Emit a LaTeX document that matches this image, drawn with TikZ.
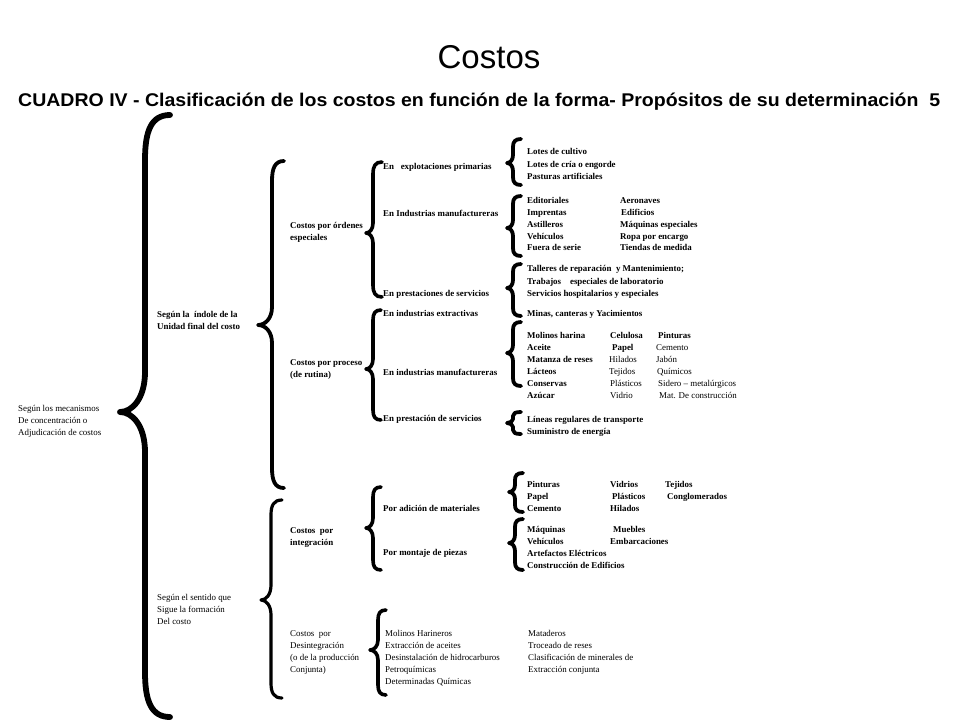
\documentclass[tikz,border=0pt]{standalone}
\usepackage{fontspec}
\setmainfont{Liberation Serif}
\newfontfamily\arialf{Liberation Sans}
\newcommand{\drawbrace}[9]{%
 \draw[line width=#9pt, line cap=round, line join=round]
 (#1+#6,#2) .. controls (#1+0.25*#6,#2) and (#1,#2+0.35*#7) .. (#1,#2+#7)
 -- (#1,#3-#8) .. controls (#1,#3-0.35*#8) and (#1-0.5*#5,#3) .. (#1-#5,#3)
 .. controls (#1-0.5*#5,#3) and (#1,#3+0.35*#8) .. (#1,#3+#8)
 -- (#1,#4-#7) .. controls (#1,#4-0.35*#7) and (#1+0.25*#6,#4) .. (#1+#6,#4);}
\begin{document}
\begin{tikzpicture}[x=1pt,y=-1pt,
  txt/.style={anchor=base west, inner sep=0pt, font=\bfseries\fontsize{8.9}{10}\selectfont},
  txtr/.style={anchor=base west, inner sep=0pt, font=\fontsize{8.9}{10}\selectfont}]
\fill[white] (0,0) rectangle (960,720);
\useasboundingbox (0,0) rectangle (960,720);
% titles
\node[font=\arialf\fontsize{33}{33}\selectfont, inner sep=0pt] (title) at (489,57) {Costos};
\node[anchor=base west, inner sep=0pt] (sub) at (18,106) {\resizebox{922pt}{13.5pt}{\arialf\bfseries CUADRO IV - Clasificación de los costos en función de la forma- Propósitos de su determinación~~5}};
% braces
\drawbrace{145}{115}{412}{717}{25}{25}{45}{40}{5.8}
\drawbrace{272}{161}{325}{488}{14}{12}{20}{18}{3.8}
\drawbrace{271}{500}{600}{698}{10}{11}{15}{15}{3.2}
\drawbrace{373}{162}{233}{297}{7}{9}{12}{10}{3.6}
\drawbrace{373}{310}{369}{420}{7}{8}{10}{10}{3.6}
\drawbrace{373}{487}{528}{570}{7}{8}{10}{10}{3.6}
\drawbrace{378}{610}{650}{695}{8}{8}{10}{10}{3.6}
\drawbrace{513}{139}{163}{185}{6}{8}{8}{8}{3.8}
\drawbrace{513}{196}{228}{256}{6}{8}{8}{8}{3.8}
\drawbrace{513}{264}{288}{316}{6}{8}{8}{8}{3.8}
\drawbrace{513}{322}{353}{386}{6}{8}{8}{8}{3.8}
\drawbrace{513}{412}{423}{434}{6}{8}{4}{4}{3.8}
\drawbrace{515}{473}{492}{512}{6}{8}{7}{7}{3.8}
\drawbrace{515}{519}{543}{570}{6}{8}{8}{8}{3.8}
% level 1
\node[txtr] (m1) at (18,411) {Según los mecanismos};
\node[txtr] (m2) at (18,423) {De concentración o};
\node[txtr] (m3) at (18,435) {Adjudicación de costos};
% level 2
\node[txt] (i1) at (157,317) {Según la\ \ índole de la};
\node[txt] (i2) at (157,329) {Unidad final del costo};
\node[txtr] (s1) at (157,600) {Según el sentido que};
\node[txtr] (s2) at (157,612) {Sigue la formación};
\node[txtr] (s3) at (157,624) {Del costo};
% level 3
\node[txt] (o1) at (290,228) {Costos por órdenes};
\node[txt] (o2) at (290,240) {especiales};
\node[txt] (p1) at (290,365) {Costos por proceso};
\node[txt] (p2) at (290,377) {(de rutina)};
\node[txt] (g1) at (290,533) {Costos\ \ por};
\node[txt] (g2) at (290,545) {integración};
\node[txtr] (d1) at (290,636) {Costos\ \ por};
\node[txtr] (d2) at (290,648) {Desintegración};
\node[txtr] (d3) at (290,660) {(o de la producción};
\node[txtr] (d4) at (290,672) {Conjunta)};
% level 4
\node[txt] (e1) at (383,169) {En\ \ \ explotaciones primarias};
\node[txt] (e2) at (383,216) {En Industrias manufactureras};
\node[txt] (e3) at (383,296) {En prestaciones de servicios};
\node[txt] (e4) at (383,316) {En industrias extractivas};
\node[txt] (e5) at (383,375) {En industrias manufactureras};
\node[txt] (e6) at (383,421) {En prestación de servicios};
\node[txt] (e7) at (383,511) {Por adición de materiales};
\node[txt] (e8) at (383,555) {Por montaje de piezas};
\node[txtr] (da1) at (385,636) {Molinos Harineros};
\node[txtr] (da2) at (385,648) {Extracción de aceites};
\node[txtr] (da3) at (385,660) {Desinstalación de hidrocarburos};
\node[txtr] (da4) at (385,672) {Petroquímicas};
\node[txtr] (da5) at (385,684) {Determinadas Químicas};
\node[txtr] (db1) at (528,636) {Mataderos};
\node[txtr] (db2) at (528,648) {Troceado de reses};
\node[txtr] (db3) at (528,660) {Clasificación de minerales de};
\node[txtr] (db4) at (528,672) {Extracción conjunta};
% level 5: explotaciones primarias
\node[txt] (a1) at (527,154) {Lotes de cultivo};
\node[txt] (a2) at (527,167) {Lotes de cría o engorde};
\node[txt] (a3) at (527,179) {Pasturas artificiales};
% industrias manufactureras (ordenes)
\node[txt] (b1) at (527,203) {Editoriales};
\node[txt] (b2) at (527,215) {Imprentas};
\node[txt] (b3) at (527,227) {Astilleros};
\node[txt] (b4) at (527,239) {Vehículos};
\node[txt] (b5) at (527,250) {Fuera de serie};
\node[txt] (bb1) at (620,203) {Aeronaves};
\node[txt] (bb2) at (621,215) {Edificios};
\node[txt] (bb3) at (620,227) {Máquinas especiales};
\node[txt] (bb4) at (620,239) {Ropa por encargo};
\node[txt] (bb5) at (620,250) {Tiendas de medida};
% servicios (ordenes)
\node[txt] (c1) at (527,271) {Talleres de reparación\ \ y Mantenimiento;};
\node[txt] (c2) at (527,284) {Trabajos\ \ \ \ especiales de laboratorio};
\node[txt] (c3) at (527,296) {Servicios hospitalarios y especiales};
\node[txt] (c4) at (527,316) {Minas, canteras y Yacimientos};
% proceso manufactureras
\node[txt] (f1) at (527,338) {Molinos harina};
\node[txt] (f2) at (527,350) {Aceite};
\node[txt] (f3) at (527,362) {Matanza de reses};
\node[txt] (f4) at (527,374) {Lácteos};
\node[txt] (f5) at (527,386) {Conservas};
\node[txt] (f6) at (527,398) {Azúcar};
\node[txt] (fb1) at (610,338) {Celulosa};
\node[txt] (fb2) at (612,350) {Papel};
\node[txtr] (fb3) at (609,362) {Hilados};
\node[txtr] (fb4) at (609,374) {Tejidos};
\node[txtr] (fb5) at (610,386) {Plásticos};
\node[txtr] (fb6) at (610,398) {Vidrio};
\node[txt] (fc1) at (658,338) {Pinturas};
\node[txtr] (fc2) at (656,350) {Cemento};
\node[txtr] (fc3) at (656,362) {Jabón};
\node[txtr] (fc4) at (657,374) {Químicos};
\node[txtr] (fc5) at (658,386) {Sidero – metalúrgicos};
\node[txtr] (fc6) at (659,398) {Mat. De construcción};
% proceso servicios
\node[txt] (h1) at (527,422) {Líneas regulares de transporte};
\node[txt] (h2) at (527,434) {Suministro de energía};
% adicion
\node[txt] (j1) at (527,487) {Pinturas};
\node[txt] (j2) at (527,499) {Papel};
\node[txt] (j3) at (527,511) {Cemento};
\node[txt] (jb1) at (610,487) {Vidrios};
\node[txt] (jb2) at (612,499) {Plásticos};
\node[txt] (jb3) at (610,511) {Hilados};
\node[txt] (jc1) at (665,487) {Tejidos};
\node[txt] (jc2) at (667,499) {Conglomerados};
% montaje
\node[txt] (k1) at (527,532) {Máquinas};
\node[txt] (k2) at (527,544) {Vehículos};
\node[txt] (k3) at (527,556) {Artefactos Eléctricos};
\node[txt] (k4) at (527,568) {Construcción de Edificios};
\node[txt] (kb1) at (613,532) {Muebles};
\node[txt] (kb2) at (610,544) {Embarcaciones};
\end{tikzpicture}
\end{document}
